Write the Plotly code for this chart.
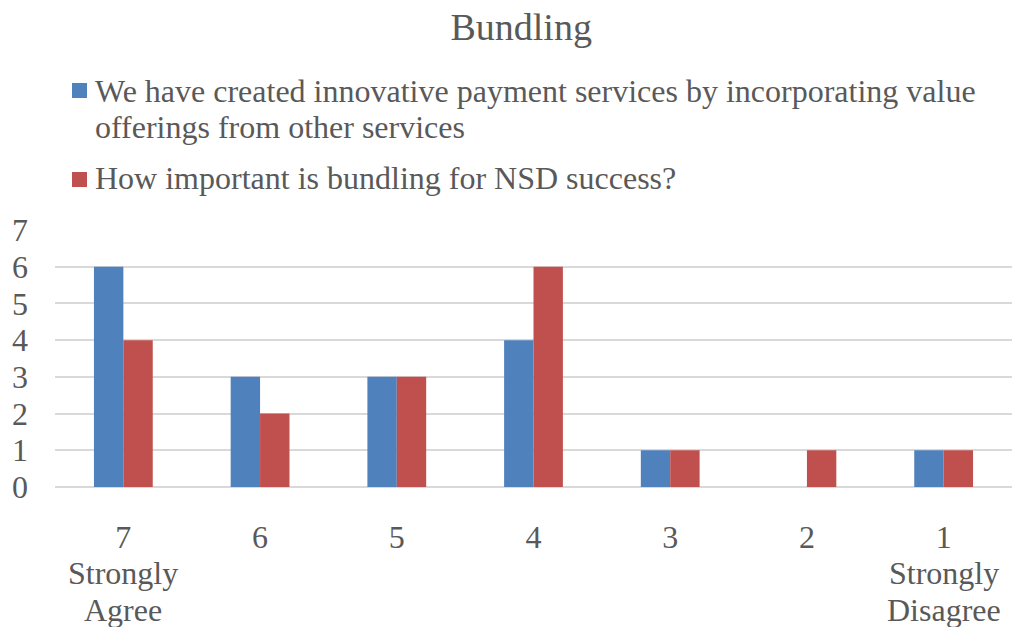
import plotly.graph_objects as go

categories = ["7", "6", "5", "4", "3", "2", "1"]
created_innovative = [6, 3, 3, 4, 1, 0, 1]
bundling_importance = [4, 2, 3, 6, 1, 1, 1]
series_names = [
    "We have created innovative payment services by incorporating value offerings from other services",
    "How important is bundling for NSD success?",
]
# legend text, broken into the lines it is drawn on
legend_lines = [
    ["We have created innovative payment services by incorporating value",
     "offerings from other services"],
    ["How important is bundling for NSD success?"],
]
scale_labels = {"7": ["Strongly", "Agree"], "1": ["Strongly", "Disagree"]}
colors = ["#4F81BD", "#C0504D"]

FONT = "Liberation Serif"
TEXT = "#595959"
GRID = "#d9d9d9"
FS = 32


def serif(size=FS):
    return dict(family=FONT, size=size, color=TEXT)


fig = go.Figure()
for name, vals, col in zip(series_names, [created_innovative, bundling_importance], colors):
    fig.add_trace(go.Bar(x=categories, y=vals, name=name, showlegend=False,
                         marker=dict(color=col, line=dict(width=0))))

# legend: coloured square plus wrapped text, positioned in pixels above the plot top
legend_rows = [(147, [139, 103]), (58, [52])]  # square top offset, text-line middle offsets
for (sq_top, line_offsets), lines, col in zip(legend_rows, legend_lines, colors):
    fig.add_shape(type="rect", xref="paper", yref="paper",
                  xsizemode="pixel", ysizemode="pixel", xanchor=0, yanchor=1,
                  x0=17, x1=32, y0=sq_top - 15, y1=sq_top,
                  fillcolor=col, line=dict(width=0))
    for off, txt in zip(line_offsets, lines):
        fig.add_annotation(text=txt, xref="paper", yref="paper", x=0, y=1,
                           xanchor="left", yanchor="middle", xshift=38, yshift=off,
                           showarrow=False, font=serif())

# descriptive words under the end points of the scale (x given as category index)
for cat, words in scale_labels.items():
    for off, w in zip([-86, -123], words):
        fig.add_annotation(text=w, x=categories.index(cat), xref="x", yref="paper", y=0,
                           yshift=off, xanchor="center", yanchor="middle", showarrow=False,
                           font=serif())

fig.update_layout(
    width=1012, height=627,
    margin=dict(l=55, r=0, t=230, b=140, autoexpand=False),
    paper_bgcolor="white", plot_bgcolor="white",
    title=dict(text="Bundling", x=0.515, xanchor="center", y=0.958, yanchor="middle",
               font=serif(38)),
    barmode="group", bargap=0.57, bargroupgap=0,
    showlegend=False,
)
fig.update_xaxes(type="category", range=[-0.5, len(categories) - 0.5], showgrid=False,
                 showline=False, zeroline=False, ticks="", automargin=False,
                 ticklabelstandoff=28, tickfont=serif())
fig.update_yaxes(range=[0, 7], dtick=1, showgrid=True, gridcolor=GRID, gridwidth=2,
                 zeroline=True, zerolinecolor=GRID, zerolinewidth=2, showline=False,
                 ticks="", automargin=False, ticklabelstandoff=26, tickfont=serif())

fig.write_html("out.html")
